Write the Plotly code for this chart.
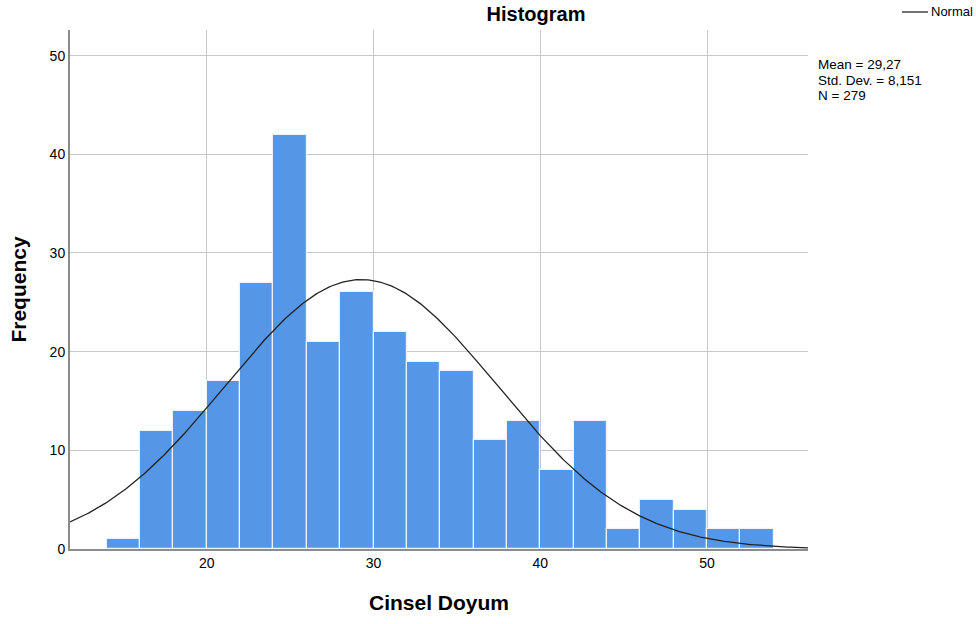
import numpy as np
import plotly.graph_objects as go

# Histogram bins (left edges) and frequencies
bin_starts = [14, 16, 18, 20, 22, 24, 26, 28, 30, 32, 34, 36, 38, 40, 42, 44, 46, 48, 50, 52]
frequencies = [1, 12, 14, 17, 27, 42, 21, 26, 22, 19, 18, 11, 13, 8, 13, 2, 5, 4, 2, 2]
bin_width = 2

# Fitted normal parameters (as printed on the chart)
mean_val = 29.27
std_val = 8.151
n_val = 279
stat_lines = ["Mean = 29,27", "Std. Dev. = 8,151", "N = 279"]

x_range = [11.8, 56.05]
y_range = [0, 52.6]

centers = [b + bin_width / 2 for b in bin_starts]

xs = np.linspace(x_range[0], x_range[1], 400)
ys = n_val * bin_width / (std_val * np.sqrt(2 * np.pi)) * np.exp(-0.5 * ((xs - mean_val) / std_val) ** 2)

L, R, T, B = 70, 808, 30, 549
W, H = 976, 624
pw, ph = R - L, B - T

def px(xp):
    return (xp - L) / pw

def py(yp):
    return (B - yp) / ph

fig = go.Figure()
fig.add_trace(go.Bar(
    x=centers, y=frequencies, width=bin_width,
    marker=dict(color="#5596E6", line=dict(color="#EAF2FC", width=1.2)),
    showlegend=False, hoverinfo="x+y",
))
fig.add_trace(go.Scatter(
    x=xs, y=ys, mode="lines", name="Normal",
    line=dict(color="#222222", width=1.3), showlegend=False,
))

fig.update_layout(
    width=W, height=H,
    margin=dict(l=L, r=W - R, t=T, b=H - B),
    paper_bgcolor="white", plot_bgcolor="white",
    font=dict(family="Liberation Sans, Arial, sans-serif", color="#000000", size=14),
    title=dict(text="<b>Histogram</b>", x=536 / W, xanchor="center",
               y=1 - 14 / H, yanchor="middle", font=dict(size=20)),
    bargap=0,
    showlegend=False,
)
fig.update_xaxes(
    range=x_range, tickvals=[20, 30, 40, 50], ticktext=["20", "30", "40", "50"],
    showgrid=True, gridcolor="#C8C8C8", gridwidth=1,
    showline=True, linecolor="#8C8C8C", linewidth=2, ticks="", zeroline=False,
    title=dict(text="<b>Cinsel Doyum</b>", font=dict(size=21), standoff=26),
    tickfont=dict(size=14), automargin=False,
)
fig.update_yaxes(
    range=y_range, tickvals=[0, 10, 20, 30, 40, 50], ticktext=["0", "10", "20", "30", "40", "50"],
    showgrid=True, gridcolor="#C8C8C8", gridwidth=1,
    showline=True, linecolor="#8C8C8C", linewidth=2, ticks="", zeroline=False,
    title=dict(text="<b>Frequency</b>", font=dict(size=21), standoff=17),
    tickfont=dict(size=14), automargin=False,
)
# legend entry for the Normal curve
fig.add_shape(type="line", xref="paper", yref="paper",
              x0=px(902), x1=px(928), y0=py(12), y1=py(12),
              line=dict(color="#222222", width=1.3))
fig.add_annotation(text="Normal", xref="paper", yref="paper",
                   x=px(929), y=py(12), xanchor="left", yanchor="middle",
                   showarrow=False, font=dict(size=13, color="#000000"))
for i, line_txt in enumerate(stat_lines):
    fig.add_annotation(
        text=line_txt, xref="paper", yref="paper", x=px(816), y=py(65 + 15 * i),
        xanchor="left", yanchor="middle", align="left", showarrow=False,
        font=dict(size=13.5, color="#000000"),
    )

fig.write_html("out.html", config={"displayModeBar": False},
               post_script="document.body.style.margin='0px';")
